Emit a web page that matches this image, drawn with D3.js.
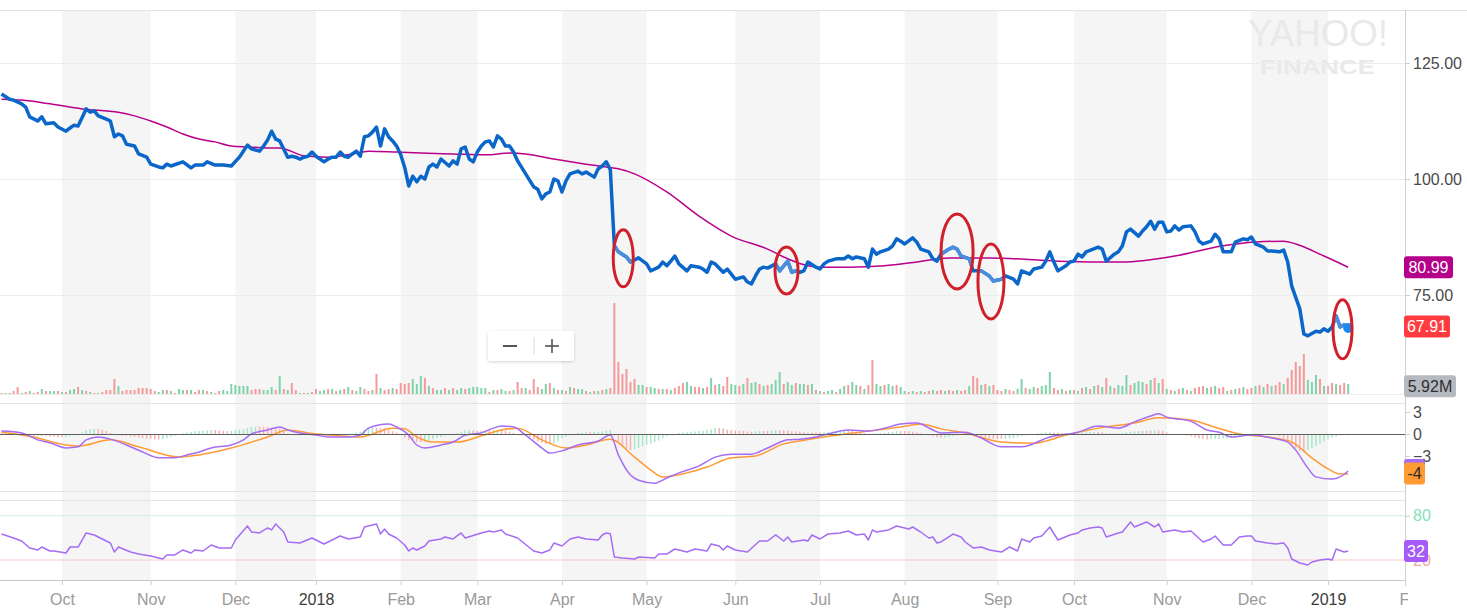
<!DOCTYPE html>
<html><head><meta charset="utf-8">
<script src="https://cdn.jsdelivr.net/npm/d3@7"></script>
<style>body{margin:0;background:#fff;}svg{display:block;font-family:'Liberation Sans',Arial,Helvetica,sans-serif;}</style>
</head><body>
<svg id="chart" width="1467" height="616"></svg>
<script>
// ---------------- DATA ----------------
const firstDay = "2017-09-11";
const lastAxisDay = "2019-02-01";
const holidays = ["2017-11-23","2017-12-25","2018-01-01","2018-01-15","2018-02-19","2018-03-30","2018-05-28",
  "2018-07-04","2018-09-03","2018-11-22","2018-12-05","2018-12-25","2019-01-01","2019-01-21"];
const tickLabels = ["Oct","Nov","Dec","2018","Feb","Mar","Apr","May","Jun","Jul","Aug","Sep","Oct","Nov","Dec","2019","Feb"];
const yearLabels = ["2018","2019"];
const priceTicks = [75,100,125];
const macdTicks = [-3,0,3];
const rsiTicks = [20,80];

// close price: [trading-day index, close]
const closes = [[0,118.3],[2,117.2],[3,117.0],[5,116.2],[6,115.5],[7,113.4],[9,112.5],[10,113.4],[11,111.9],[13,112.1],[14,111.2],[16,110.3],[17,111.0],[18,111.6],[19,111.4],[21,115.1],[22,114.4],[23,114.7],[24,113.6],[26,112.9],[27,112.5],[28,109.1],[29,109.7],[30,109.3],[31,107.5],[33,107.1],[34,105.4],[36,104.7],[37,103.2],[39,102.6],[40,102.4],[41,103.2],[42,102.8],[45,103.7],[47,102.4],[48,103.0],[50,103.0],[51,103.7],[53,103.0],[55,103.0],[57,102.8],[59,104.7],[61,107.3],[62,106.5],[64,106.0],[65,107.1],[66,108.4],[67,110.3],[68,108.6],[69,108.2],[71,104.7],[72,104.9],[73,104.7],[74,104.3],[75,104.7],[76,104.9],[77,105.8],[78,104.9],[79,104.3],[80,103.7],[81,104.3],[82,104.7],[83,104.7],[84,105.8],[85,104.9],[86,104.7],[87,105.4],[88,106.0],[89,104.9],[90,109.1],[91,109.3],[92,110.1],[93,111.2],[94,107.1],[95,110.8],[96,109.1],[97,108.2],[98,107.1],[99,105.3],[100,102.5],[101,98.5],[102,100.6],[103,99.4],[104,100.6],[105,100.0],[106,102.6],[107,103.2],[108,102.6],[109,104.3],[111,102.8],[112,103.9],[113,103.2],[114,106.5],[115,106.9],[116,104.3],[117,103.7],[118,105.8],[119,107.1],[120,108.0],[121,108.2],[122,106.9],[123,109.3],[124,108.6],[125,107.1],[126,107.1],[127,105.8],[128,103.9],[130,101.1],[132,98.3],[133,97.8],[134,95.7],[135,96.8],[136,97.2],[137,100.0],[138,99.6],[139,97.2],[140,99.6],[141,101.1],[143,101.7],[144,101.1],[145,101.5],[147,100.4],[148,102.2],[149,102.8],[150,103.7],[151,102.0],[152,85.6],[153,84.3],[155,83.2],[156,82.1],[158,83.0],[160,81.7],[161,80.2],[163,81.0],[164,82.1],[165,81.3],[166,82.3],[167,83.4],[168,81.7],[170,80.2],[171,81.3],[173,81.0],[174,80.6],[175,79.9],[176,82.1],[177,81.7],[179,79.9],[180,80.6],[181,79.5],[182,78.4],[184,78.9],[185,77.8],[186,77.4],[187,79.1],[188,80.6],[189,81.0],[190,80.8],[192,81.7],[193,80.2],[195,82.3],[196,79.9],[197,80.2],[198,79.9],[199,80.2],[200,82.1],[202,81.0],[203,80.6],[204,81.7],[205,82.3],[207,82.8],[209,82.8],[210,83.4],[211,82.8],[212,83.2],[214,82.8],[215,81.0],[216,84.9],[217,83.8],[218,84.3],[220,84.9],[221,85.6],[222,87.1],[223,86.6],[224,86.0],[226,87.3],[227,86.4],[228,84.9],[230,84.3],[231,82.8],[232,82.3],[233,83.8],[235,84.9],[236,85.3],[237,84.9],[238,83.4],[240,82.8],[241,80.2],[243,80.2],[245,79.1],[246,78.0],[248,78.4],[249,79.1],[251,78.4],[252,77.4],[253,80.2],[255,79.5],[256,80.6],[258,81.0],[259,82.3],[260,84.3],[261,82.1],[262,80.2],[264,81.3],[265,82.1],[266,82.3],[267,83.8],[268,83.2],[269,84.3],[272,85.3],[273,84.9],[274,82.3],[276,83.8],[277,84.3],[278,85.6],[279,88.6],[280,89.2],[282,87.7],[283,88.8],[284,89.7],[285,90.9],[286,89.2],[287,90.7],[288,90.7],[289,88.6],[290,88.8],[291,89.9],[292,89.0],[293,89.7],[295,89.9],[296,88.6],[297,86.6],[298,86.0],[300,86.6],[301,88.1],[302,87.1],[303,84.3],[305,84.3],[306,86.4],[308,87.1],[309,86.9],[310,87.5],[311,86.0],[313,85.3],[314,84.5],[315,84.5],[317,84.3],[318,84.7],[319,82.1],[320,76.9],[322,72.0],[323,66.6],[324,66.2],[326,67.2],[327,67.0],[328,67.7],[329,67.2],[330,68.1],[331,70.5],[332,68.1],[333,68.6],[334,67.91]];

// 50-day moving average: [trading-day index, value]
const movingAvg = [[0,117.2],[5,117.0],[12,116.2],[20,115.1],[29,114.4],[33,113.6],[37,112.5],[41,111.2],[45,109.7],[49,108.6],[53,108.0],[57,107.1],[61,106.9],[66,106.7],[69,106.7],[75,105.0],[81,104.7],[87,105.4],[91,106.0],[98,105.8],[104,105.6],[112,105.4],[120,105.2],[126,105.6],[130,105.4],[137,104.3],[145,103.2],[150,102.6],[153,102.2],[157,101.1],[165,97.2],[173,92.0],[181,87.7],[190,84.9],[195,82.8],[200,81.3],[203,81.0],[210,81.0],[219,81.3],[227,82.1],[235,83.0],[245,83.0],[262,82.3],[278,82.1],[291,83.4],[303,85.6],[311,86.4],[318,86.6],[321,86.0],[328,83.4],[334,80.99]];

// daily volume (millions), one value per trading day, by month
const volume = [
  0.6,0.6,0.6,1.8,4.2,0.6,1.2,1.8,0.6,1.2,3.0,1.8,1.8,1.8,1.8,
  1.2,1.2,2.4,3.0,4.2,2.4,1.8,1.2,0.6,0.6,1.2,2.4,2.4,9.0,4.8,1.8,2.4,2.4,2.4,3.6,3.6,3.6,
  3.0,1.8,1.2,2.4,2.4,1.8,0.6,3.0,2.4,2.4,2.4,1.2,2.4,2.4,1.8,1.2,0.6,1.8,2.4,1.8,6.0,
  5.4,4.8,4.8,4.8,2.4,3.0,3.0,2.4,2.4,4.2,2.4,10.8,3.0,2.4,6.6,2.4,0.6,0.6,0.6,1.2,
  3.0,1.8,2.4,3.0,3.0,1.8,2.4,3.0,4.2,2.4,1.8,4.2,3.0,1.8,2.4,12.0,3.6,2.4,3.0,3.6,3.0,
  6.6,6.0,6.6,9.0,6.0,10.8,9.6,4.8,3.6,2.4,2.4,3.6,2.4,3.6,2.4,3.6,3.0,3.6,4.2,
  4.2,3.6,3.6,1.2,2.4,2.4,3.0,1.8,1.8,2.4,7.2,3.6,3.6,2.4,9.0,4.2,3.0,6.0,6.6,3.6,2.4,
  2.4,1.8,4.2,3.6,3.0,3.0,1.8,1.2,1.8,1.8,2.4,3.0,3.6,54.6,19.2,12.0,15.0,7.2,9.0,5.4,5.4,
  4.2,4.2,3.6,3.0,3.0,3.0,2.4,3.6,4.8,6.6,7.2,4.8,4.2,4.2,3.6,4.2,9.6,5.4,6.0,4.8,10.2,6.0,
  5.4,4.8,6.0,9.6,6.6,7.2,6.0,4.8,5.4,6.0,8.4,13.2,6.0,7.2,5.4,6.6,6.0,6.0,5.4,6.0,2.4,
  1.8,1.2,1.8,2.4,1.2,3.0,4.8,5.4,7.2,5.4,4.8,3.0,5.4,20.4,6.0,4.8,5.4,6.0,4.8,5.4,4.2,
  1.8,1.2,1.8,1.2,1.8,1.2,1.8,2.4,1.8,2.4,1.8,2.4,1.8,2.4,1.8,2.4,4.8,10.8,9.6,5.4,6.0,4.8,5.4,
  2.4,1.8,3.0,2.4,1.8,3.0,9.0,3.6,3.0,4.2,3.6,4.8,5.4,13.2,3.6,2.4,3.0,1.8,2.4,
  2.4,1.8,3.6,4.2,3.0,4.8,5.4,4.2,9.6,4.8,3.6,5.4,4.8,11.4,5.4,6.6,7.8,7.2,6.0,8.4,9.6,6.6,9.0,
  3.0,2.4,1.8,3.0,3.6,2.4,1.8,3.6,4.2,4.8,3.6,4.2,4.8,3.6,4.2,1.8,2.4,3.0,3.6,4.2,3.0,
  3.6,4.8,5.4,4.2,6.0,4.8,5.4,7.2,6.0,9.6,14.4,19.2,16.8,24.0,8.4,7.2,11.4,9.0,4.8,
  4.8,6.6,6.0,5.4,6.6,5.92];
// 1 = up day, 0 = down day
const volumeUp = [
  0,1,0,0,0,1,0,1,0,0,1,0,1,1,0,
  1,0,1,1,0,1,0,1,0,1,0,0,0,0,1,0,0,0,0,0,0,0,
  0,0,1,1,0,1,0,1,1,0,1,0,0,1,0,1,0,0,1,1,1,
  1,1,1,1,0,0,0,1,1,1,0,1,0,1,0,0,1,0,1,0,
  0,1,1,0,1,0,1,0,1,0,1,1,0,0,1,0,1,0,0,1,0,
  0,0,0,1,1,1,0,1,0,1,1,0,1,0,1,1,0,1,1,
  1,1,1,0,1,0,1,1,0,1,0,0,1,0,0,0,1,1,0,1,0,
  1,0,1,0,1,1,0,1,0,1,0,1,0,0,0,0,0,0,0,1,1,
  0,1,1,0,1,0,1,0,0,0,1,1,0,0,1,0,1,0,1,0,0,1,
  1,0,1,0,1,1,0,1,0,1,1,1,0,1,1,0,1,1,0,1,0,
  1,0,1,1,0,1,1,0,1,1,0,1,0,0,1,1,0,1,1,0,1,
  1,0,1,0,1,0,0,1,0,0,1,0,0,1,0,0,1,0,0,1,0,1,0,
  0,0,1,0,0,1,1,0,1,1,0,1,1,1,0,0,1,0,1,
  0,1,0,1,0,1,0,1,0,1,0,1,1,1,0,1,1,1,0,1,0,1,0,
  1,0,1,0,1,0,1,0,0,0,1,0,1,0,0,1,0,1,0,1,0,
  0,1,0,1,0,1,0,0,1,0,0,0,0,0,1,1,1,0,1,
  0,0,1,0,0,1];

// MACD (12,26) and signal (9): [trading-day index, value]
const macdLine = [[0,0.4],[5,0.15],[9,-0.8],[12,-1.2],[16,-1.9],[19,-1.75],[21,-0.8],[24,-0.4],[27,-0.7],[31,-1.5],[35,-2.45],[39,-3.25],[43,-3.25],[46,-2.85],[49,-2.45],[52,-1.9],[57,-1.5],[60,-0.8],[62,0],[66,0.55],[69,0.95],[71,0.55],[74,0.15],[78,-0.15],[81,-0.4],[86,-0.4],[89,-0.15],[91,0.8],[96,1.35],[98,0.95],[101,-0.15],[103,-1.5],[105,-1.9],[109,-1.5],[112,-1.1],[115,-0.15],[119,0.15],[122,0.8],[124,1.1],[127,0.95],[130,-0.15],[134,-1.9],[136,-2.6],[139,-2.3],[143,-1.5],[148,-0.95],[151,-0.15],[153,-2.85],[156,-5.6],[158,-6.3],[162,-6.7],[165,-6.0],[168,-5.3],[173,-4.35],[177,-3.15],[181,-2.75],[186,-2.75],[190,-1.9],[195,-0.8],[198,-0.7],[202,-0.4],[206,0.15],[210,0.55],[215,0.4],[219,0.8],[223,1.35],[227,1.5],[231,0.55],[233,0.15],[239,0.25],[243,-0.55],[248,-1.75],[253,-1.75],[260,-0.4],[267,0.25],[272,1.1],[277,0.8],[281,1.65],[285,2.45],[287,2.75],[289,2.3],[295,1.75],[299,0.55],[302,0.25],[305,-0.4],[310,-0.15],[315,-0.55],[319,-1.1],[321,-2.2],[324,-4.65],[326,-5.85],[330,-6.15],[332,-5.85],[334,-5.05]];
const signalLine = [[0,0.25],[8,-0.4],[16,-1.5],[19,-1.65],[27,-0.8],[34,-1.75],[44,-3.15],[49,-2.85],[57,-1.9],[66,-0.4],[71,0.55],[76,0.15],[82,-0.15],[89,-0.4],[97,0.8],[100,0.7],[103,-0.4],[107,-1.1],[113,-1.1],[119,-0.25],[124,0.55],[128,0.8],[134,-0.8],[140,-1.9],[145,-1.5],[151,-0.7],[157,-3.15],[161,-4.9],[164,-5.85],[170,-5.3],[175,-4.5],[181,-3.25],[187,-3.0],[194,-1.35],[198,-0.95],[206,-0.25],[215,0.4],[223,0.95],[228,1.35],[233,0.7],[239,0.15],[248,-1.1],[256,-1.25],[264,-0.15],[272,0.8],[281,1.5],[287,2.2],[295,1.9],[300,1.1],[307,0],[314,-0.4],[320,-1.1],[325,-3.25],[329,-4.75],[332,-5.45],[334,-5.45]];
// MACD histogram, one value per trading day, by month
const macdHist = [
  0.15,0.2,0.2,0.15,0.05,-0.1,-0.2,-0.25,-0.3,-0.25,-0.25,-0.3,-0.35,-0.4,-0.45,
  -0.45,-0.4,-0.3,-0.2,-0.1,0.2,0.5,0.65,0.7,0.7,0.6,0.4,0.15,-0.1,-0.2,-0.25,-0.25,-0.3,-0.4,-0.5,-0.55,-0.6,
  -0.65,-0.75,-0.75,-0.7,-0.55,-0.4,-0.25,-0.1,0.1,0.2,0.3,0.35,0.4,0.45,0.5,0.55,0.55,0.5,0.45,0.4,0.45,
  0.5,0.6,0.65,0.8,0.95,1.0,1.0,1.0,0.95,0.9,0.8,0.75,0.4,0.05,-0.05,-0.1,-0.15,-0.15,-0.2,-0.2,
  -0.2,-0.2,-0.25,-0.3,-0.3,-0.25,-0.15,-0.1,-0.05,0.05,0.2,0.3,0.55,0.8,0.85,0.85,0.8,0.75,0.6,0.4,0.2,
  -0.1,-0.5,-0.8,-1.0,-1.1,-1.1,-1.05,-0.9,-0.7,-0.5,-0.4,-0.25,-0.1,0.0,0.15,0.3,0.5,0.55,0.5,
  0.45,0.45,0.5,0.5,0.52,0.55,0.54,0.45,0.3,0.15,0.0,-0.2,-0.3,-0.5,-0.75,-1.0,-1.2,-1.35,-1.4,-1.3,-1.0,
  -0.6,-0.4,-0.2,0.0,0.15,0.2,0.25,0.25,0.28,0.3,0.35,0.45,0.55,-0.3,-1.0,-1.6,-2.0,-2.2,-2.1,-1.9,-1.7,
  -1.5,-1.3,-1.1,-0.9,-0.6,-0.3,-0.1,0.0,0.15,0.2,0.25,0.3,0.35,0.4,0.45,0.55,0.65,0.8,0.8,0.75,0.6,0.55,
  0.5,0.45,0.4,0.35,0.3,0.35,0.4,0.4,0.4,0.45,0.5,0.5,0.5,0.48,0.4,0.35,0.3,0.25,0.2,0.2,0.2,
  0.2,0.25,0.3,0.35,0.4,0.42,0.45,0.45,0.4,0.3,0.2,0.1,0.0,0.05,0.1,0.15,0.15,0.25,0.3,0.4,0.4,
  0.4,0.35,0.3,0.2,0.1,0.0,-0.15,-0.3,-0.45,-0.55,-0.5,-0.4,-0.3,-0.2,-0.1,0.05,0.0,-0.15,-0.3,-0.4,-0.5,-0.6,-0.65,
  -0.68,-0.68,-0.65,-0.6,-0.55,-0.45,-0.3,-0.2,-0.1,0.0,0.1,0.15,0.2,0.25,0.2,0.2,0.15,0.15,0.15,
  0.15,0.17,0.2,0.22,0.25,0.27,0.27,0.2,0.1,0.05,0.05,0.1,0.15,0.25,0.3,0.35,0.4,0.4,0.45,0.45,0.5,0.5,0.4,
  0.2,0.05,-0.05,-0.1,-0.15,-0.2,-0.3,-0.45,-0.6,-0.7,-0.75,-0.7,-0.65,-0.63,-0.62,-0.6,-0.55,-0.45,-0.3,-0.15,0.0,
  0.05,0.05,0.0,-0.05,-0.05,-0.1,-0.15,-0.3,-0.6,-1.0,-1.4,-1.9,-2.3,-2.4,-2.2,-1.9,-1.6,-1.3,-1.0,
  -0.7,-0.5,-0.35,-0.2,-0.1,0.05];

// RSI (14): [trading-day index, value]
const rsi = [[0,55.2],[3,49.8],[5,45.7],[7,36.3],[9,33.6],[10,37.6],[12,32.2],[13,32.2],[16,29.5],[17,37.6],[19,37.6],[21,56.6],[23,53.9],[25,48.5],[27,43.0],[28,30.8],[29,37.6],[32,30.8],[34,28.1],[37,25.4],[40,21.4],[41,26.8],[43,26.8],[45,33.6],[47,29.5],[48,33.6],[50,32.2],[52,40.3],[54,36.3],[57,36.3],[58,47.1],[61,66.1],[62,57.9],[64,56.6],[66,63.4],[67,60.7],[68,68.8],[70,57.9],[71,44.4],[74,43.0],[77,49.8],[80,41.7],[82,47.1],[84,52.5],[86,48.5],[89,51.2],[90,64.7],[91,66.1],[93,68.8],[94,55.2],[95,62.0],[96,55.2],[98,49.8],[100,40.3],[101,32.2],[102,36.3],[103,33.6],[105,39.0],[106,45.7],[109,48.5],[110,51.2],[112,48.5],[114,56.6],[115,49.8],[119,56.6],[121,59.3],[122,57.9],[124,60.7],[125,55.2],[128,49.8],[132,32.2],[134,29.5],[136,33.6],[137,43.0],[139,39.0],[141,48.5],[143,51.2],[145,48.5],[148,47.1],[149,53.9],[150,56.6],[151,55.5],[152,24.1],[154,22.7],[157,21.4],[158,24.1],[162,22.7],[163,28.1],[165,28.1],[167,34.9],[170,30.8],[172,34.9],[175,32.2],[176,41.7],[178,39.0],[179,33.6],[180,39.0],[182,33.6],[185,30.8],[188,45.7],[190,45.7],[192,53.9],[194,45.7],[195,51.2],[196,44.4],[199,47.1],[200,45.7],[201,53.9],[203,48.5],[205,55.2],[208,56.6],[210,59.3],[212,53.9],[214,55.2],[215,47.1],[216,60.7],[217,57.9],[220,60.7],[222,66.1],[225,62.0],[226,64.7],[228,57.9],[230,49.8],[231,51.2],[232,43.0],[233,44.4],[236,55.2],[238,51.2],[239,44.4],[241,36.3],[243,37.6],[245,33.6],[248,30.8],[250,37.6],[252,32.2],[253,48.5],[255,44.4],[256,49.8],[258,52.5],[260,64.7],[262,47.1],[265,53.9],[267,56.6],[268,60.7],[270,63.4],[272,64.7],[273,63.4],[274,51.2],[277,56.6],[278,57.9],[280,71.5],[281,64.7],[284,71.5],[286,64.7],[287,68.8],[288,57.9],[291,60.7],[293,57.9],[295,59.3],[298,44.4],[300,48.5],[301,52.5],[303,40.3],[305,40.3],[307,51.2],[309,52.5],[310,52.5],[311,45.7],[314,43.0],[316,41.7],[318,43.0],[319,36.3],[320,21.4],[322,15.9],[324,13.2],[325,17.3],[327,20.0],[329,21.4],[330,20.0],[331,34.9],[333,30.8],[334,32.2]];

// last-value tags
const lastClose = 67.91, lastMA = 80.99, lastVolume = 5.92, lastMacd = -5.05, lastSignal = -5.45, lastRsi = 32.2;
const macdTagText = "-4";
// hand-drawn annotation ellipses: centre at [trading-day index, price]
const annotations = [[154.2,82.9],[194.7,80.3],[237.0,84.4],[245.4,77.9],[332.6,67.6]];
const annotationRadii = [[10,28.5],[11.5,23.5],[16,37.5],[13,37.5],[9.5,29.5]];

// ---------------- CALENDAR ----------------
const fmt = d3.utcFormat("%Y-%m-%d");
const parse = d3.utcParse("%Y-%m-%d");
const days = [];
for (let d = parse(firstDay); d <= parse(lastAxisDay); d = d3.utcDay.offset(d, 1)) {
  const wd = d.getUTCDay();
  const s = fmt(d);
  if (wd === 0 || wd === 6 || holidays.includes(s)) continue;
  days.push(d);
}
const monthStarts = [];
for (let i = 1; i < days.length; i++) {
  if (days[i].getUTCMonth() !== days[i-1].getUTCMonth()) monthStarts.push(i);
}

// ---------------- LAYOUT ----------------
const svg = d3.select("#chart");
const W = 1467, plotR = 1405;
const x = d3.scaleLinear().domain([0, days.length - 1]).range([1.5, 1412.7]);
const yP = d3.scaleLinear().domain([75, 125]).range([295, 63]);
const yV = d3.scaleLinear().domain([0, 60]).range([394, 294]);
const yM = d3.scaleLinear().domain([-3, 3]).range([456, 412]);
const yR = d3.scaleLinear().domain([20, 80]).range([560, 515.7]);

const defs = svg.append("defs");
defs.append("clipPath").attr("id","plotClip").append("rect").attr("x",0).attr("y",0).attr("width",plotR).attr("height",616);
defs.append("clipPath").attr("id","axisClip").append("rect").attr("x",0).attr("y",-10).attr("width",1408).attr("height",50);
const ell = defs.append("clipPath").attr("id","ellClip");
const sh = defs.append("filter").attr("id","shadow").attr("x","-20%").attr("y","-30%").attr("width","140%").attr("height","170%");
sh.append("feDropShadow").attr("dx",0).attr("dy",1).attr("stdDeviation",1.5).attr("flood-color","#000").attr("flood-opacity",0.18);

// month bands
const bands = svg.append("g").attr("clip-path","url(#plotClip)");
for (let k = 0; k + 1 < monthStarts.length; k += 2) {
  bands.append("rect").attr("x", x(monthStarts[k])).attr("y", 10)
    .attr("width", x(monthStarts[k+1]) - x(monthStarts[k])).attr("height", 570).attr("fill", "#f5f5f5");
}

// watermark
svg.append("text").attr("x",1248).attr("y",46).attr("font-size",37).attr("fill","#e9e9e9")
  .attr("textLength",140).attr("lengthAdjust","spacingAndGlyphs").text("YAHOO!");
svg.append("text").attr("x",1260).attr("y",74).attr("font-size",21).attr("font-weight","bold").attr("fill","#e9e9e9")
  .attr("textLength",115).attr("lengthAdjust","spacingAndGlyphs").text("FINANCE");

// frame lines
svg.append("line").attr("x1",0).attr("x2",W).attr("y1",10.5).attr("y2",10.5).attr("stroke","#e2e2e2");
const paneLines = [[394.5,"#ececec"],[403.5,"#e2e2e2"],[491.5,"#e2e2e2"],[500.5,"#e2e2e2"],[580.5,"#c8c8c8"]];
paneLines.forEach(([yy,c]) => svg.append("line").attr("x1",0).attr("x2",plotR).attr("y1",yy).attr("y2",yy).attr("stroke",c));
priceTicks.forEach(v => svg.append("line").attr("x1",0).attr("x2",plotR).attr("y1",Math.round(yP(v))+0.5).attr("y2",Math.round(yP(v))+0.5).attr("stroke","#ececec"));
svg.append("line").attr("x1",0).attr("x2",plotR).attr("y1",yR(80)).attr("y2",yR(80)).attr("stroke","#c9f1df");
svg.append("line").attr("x1",0).attr("x2",plotR).attr("y1",yR(20)).attr("y2",yR(20)).attr("stroke","#f6cccc");

const plot = svg.append("g").attr("clip-path","url(#plotClip)");

// volume bars
plot.append("g").selectAll("rect").data(volume).join("rect")
  .attr("x",(d,i)=>x(i)-1).attr("width",2)
  .attr("y",d=>yV(d)).attr("height",d=>yV(0)-yV(d))
  .attr("fill",(d,i)=>volumeUp[i] ? "#7fd3aa" : "#f59a9a");

// moving average
plot.append("path").datum(movingAvg)
  .attr("d", d3.line().x(d=>x(d[0])).y(d=>yP(d[1])).curve(d3.curveMonotoneX))
  .attr("fill","none").attr("stroke","#b8008b").attr("stroke-width",1.5);

// price line
const priceLine = d3.line().x(d=>x(d[0])).y(d=>yP(d[1]));
plot.append("path").datum(closes).attr("d",priceLine)
  .attr("fill","none").attr("stroke","#0a66c8").attr("stroke-width",3.5).attr("stroke-linejoin","round");
annotations.forEach((a,i) => ell.append("ellipse").attr("cx",x(a[0])).attr("cy",yP(a[1])).attr("rx",annotationRadii[i][0]).attr("ry",annotationRadii[i][1]));
plot.append("path").datum(closes).attr("d",priceLine).attr("clip-path","url(#ellClip)")
  .attr("fill","none").attr("stroke","#4a8fdc").attr("stroke-width",3.2).attr("stroke-linejoin","round");
const last = closes[closes.length-1];
plot.append("circle").attr("cx",x(last[0])).attr("cy",yP(lastClose)).attr("r",5).attr("fill","#1a8af0");
annotations.forEach((a,i) => plot.append("ellipse").attr("cx",x(a[0])).attr("cy",yP(a[1]))
  .attr("rx",annotationRadii[i][0]).attr("ry",annotationRadii[i][1])
  .attr("fill","none").attr("stroke","#d0202c").attr("stroke-width",3));

// MACD
plot.append("g").selectAll("rect").data(macdHist).join("rect")
  .attr("x",(d,i)=>x(i)-0.75).attr("width",1.5)
  .attr("y",d=>Math.min(yM(d),yM(0))).attr("height",d=>Math.abs(yM(d)-yM(0)))
  .attr("fill",(d,i)=> (i>0 && d > macdHist[i-1]) ? "#a8e6c9" : "#f6b3b3");
svg.append("line").attr("x1",0).attr("x2",plotR).attr("y1",yM(0)+0.5).attr("y2",yM(0)+0.5).attr("stroke","#5f5f5f");
const lineFn = (sc) => d3.line().x(d=>x(d[0])).y(d=>sc(d[1])).curve(d3.curveMonotoneX);
plot.append("path").datum(signalLine).attr("d",lineFn(yM)).attr("fill","none").attr("stroke","#ff9a35").attr("stroke-width",1.5);
plot.append("path").datum(macdLine).attr("d",lineFn(yM)).attr("fill","none").attr("stroke","#a56cf4").attr("stroke-width",1.5);

// RSI
plot.append("path").datum(rsi).attr("d",d3.line().x(d=>x(d[0])).y(d=>yR(d[1])))
  .attr("fill","none").attr("stroke","#a56cf4").attr("stroke-width",1.5).attr("stroke-linejoin","round");

// ---------------- AXES ----------------
svg.append("line").attr("x1",plotR+0.5).attr("x2",plotR+0.5).attr("y1",10).attr("y2",586).attr("stroke","#cfcfcf");

function rightAxis(scale, ticks, fmtFn, color) {
  const g = svg.append("g").attr("transform",`translate(${plotR},0)`)
    .call(d3.axisRight(scale).tickValues(ticks).tickFormat(fmtFn).tickSize(5).tickPadding(3));
  g.select(".domain").remove();
  g.selectAll(".tick line").attr("stroke","#cfcfcf");
  g.selectAll(".tick text").attr("font-size",16).attr("font-family","'Liberation Sans',Arial,sans-serif")
    .attr("fill", typeof color === "function" ? color : () => color);
  return g;
}
rightAxis(yP, priceTicks, d3.format(".2f"), "#4a4a4a");
rightAxis(yM, macdTicks, d3.format("d"), "#4a4a4a");
rightAxis(yR, rsiTicks, d3.format("d"), d => d === 80 ? "#86e0bb" : "#f3a5a5");

const xa = svg.append("g").attr("transform","translate(0,580)").attr("clip-path","url(#axisClip)")
  .call(d3.axisBottom(x).tickValues(monthStarts).tickFormat((d,i)=>tickLabels[i]).tickSize(5).tickPadding(9));
xa.select(".domain").remove();
xa.selectAll(".tick line").attr("stroke","#cfcfcf");
xa.selectAll(".tick text").attr("font-size",16).attr("font-family","'Liberation Sans',Arial,sans-serif")
  .attr("fill",(d,i)=> yearLabels.includes(tickLabels[i]) ? "#3c3c3c" : "#9a9a9a");

// ---------------- TAGS ----------------
function tag(yc, txt, bg, fg, w) {
  svg.append("rect").attr("x",1404).attr("y",yc-11).attr("width",w).attr("height",22).attr("rx",3).attr("fill",bg);
  svg.append("text").attr("x",1404+w/2).attr("y",yc).attr("dy","0.36em").attr("text-anchor","middle")
    .attr("font-size",16).attr("fill",fg).text(txt);
}
tag(yP(lastMA), d3.format(".2f")(lastMA), "#b5008a", "#fff", 49);
tag(yP(lastClose)-1.5, d3.format(".2f")(lastClose), "#ff3b3f", "#fff", 46);
tag(yV(lastVolume)+2, d3.format(".2f")(lastVolume)+"M", "#b5bac1", "#2f2f2f", 52);
tag(yM(lastMacd)-1, "", "#a56cf4", "#fff", 21);
tag(yM(lastSignal)-0.5, macdTagText, "#ff9a35", "#2a2a2a", 21);
tag(yR(lastRsi), d3.format("d")(lastRsi), "#a55cf6", "#fff", 24);

// ---------------- ZOOM CONTROL ----------------
const zc = svg.append("g").attr("transform","translate(488,331)");
zc.append("rect").attr("width",86).attr("height",30).attr("rx",3).attr("fill","#fff").attr("filter","url(#shadow)");
zc.append("line").attr("x1",46).attr("x2",46).attr("y1",6).attr("y2",24).attr("stroke","#dcdcdc");
zc.append("line").attr("x1",15).attr("x2",29).attr("y1",15).attr("y2",15).attr("stroke","#555").attr("stroke-width",2);
zc.append("line").attr("x1",57).attr("x2",71).attr("y1",15).attr("y2",15).attr("stroke","#555").attr("stroke-width",1.6);
zc.append("line").attr("x1",64).attr("x2",64).attr("y1",8).attr("y2",22).attr("stroke","#555").attr("stroke-width",1.6);
</script>
</body></html>
